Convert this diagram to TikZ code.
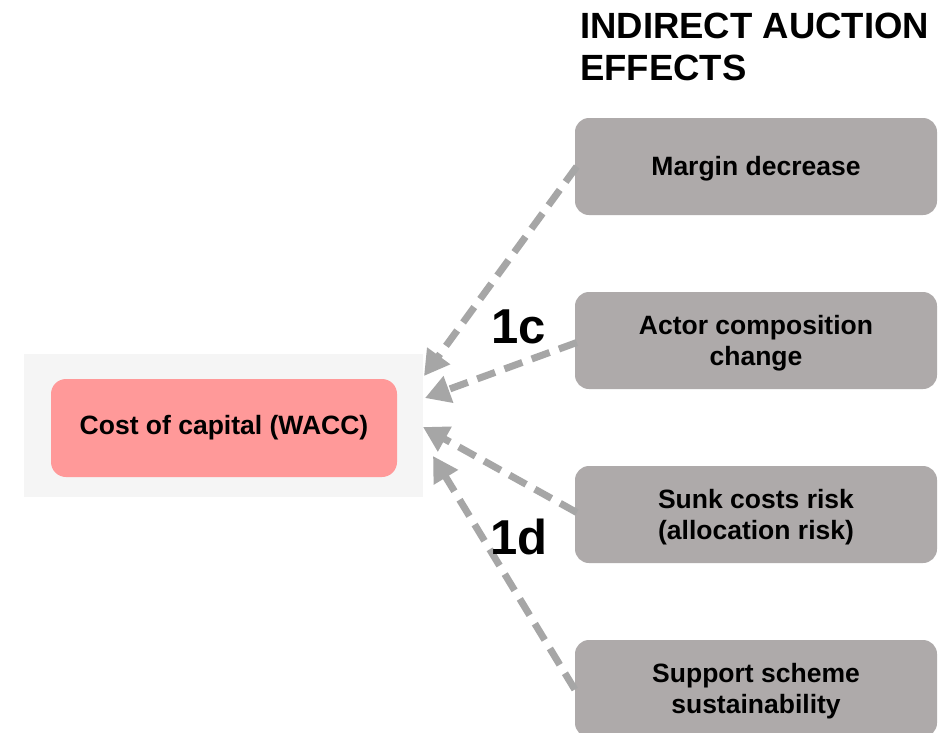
\documentclass[tikz,border=0pt]{standalone}
\usepackage{fontspec}
\setmainfont{Liberation Sans}
\usetikzlibrary{arrows.meta}
\definecolor{pinkbox}{HTML}{FF9999}
\definecolor{greybox}{HTML}{AEAAAA}
\definecolor{arrowgrey}{HTML}{A6A6A6}
\definecolor{bggrey}{HTML}{F5F5F5}
\tikzset{
  effect/.style={fill=greybox, rounded corners=14pt, minimum width=362pt, minimum height=97pt, align=center, font=\fontsize{26.5}{31}\selectfont\bfseries, inner sep=0pt},
  link/.style={draw=arrowgrey, line width=7pt, dash pattern=on 19pt off 10pt, -{Triangle[length=25pt,width=27pt]}},
  lbl/.style={font=\fontsize{49}{52}\selectfont\bfseries}
}
\begin{document}
\begin{tikzpicture}[x=1pt,y=-1pt]
\useasboundingbox (0,0) rectangle (940,732);
\fill[white] (0,0) rectangle (940,732);
\node[fill=bggrey, minimum width=399pt, minimum height=143pt, inner sep=0pt] (bg) at (223.5,425.5) {};
\node[fill=pinkbox, rounded corners=15pt, minimum width=346pt, minimum height=98pt, inner sep=0pt, font=\fontsize{26.5}{31}\selectfont\bfseries] (wacc) at (224,428) {Cost of capital (WACC)};
\node[anchor=north west, align=left, inner sep=0pt, font=\fontsize{36.5}{42}\selectfont\bfseries] (title) at (580,13) {INDIRECT AUCTION\\EFFECTS};
\node[effect] (e1) at (756,166.5) {\rule{0pt}{24pt}Margin decrease};
\node[effect] (e2) at (756,340.5) {\rule{0pt}{24pt}Actor composition\\change};
\node[effect] (e3) at (756,514.5) {\rule{0pt}{24pt}Sunk costs risk\\(allocation risk)};
\node[effect] (e4) at (756,688.5) {\rule{0pt}{24pt}Support scheme\\sustainability};
\coordinate (t1) at (424,376);
\coordinate (t2) at (425,398);
\coordinate (t3) at (423,427);
\coordinate (t4) at (433,456);
\draw[link] ([xshift=2pt]e1.west) -- (t1);
\draw[link] ([xshift=2pt,yshift=-2pt]e2.west) -- (t2);
\draw[link] ([xshift=2pt,yshift=2pt]e3.west) -- (t3);
\draw[link] ([xshift=0pt,yshift=-1pt]e4.west) -- (t4);
\node[lbl] (l1c) at (519,327) {1c};
\node[lbl] (l1d) at (519,537) {1d};
\end{tikzpicture}
\end{document}
